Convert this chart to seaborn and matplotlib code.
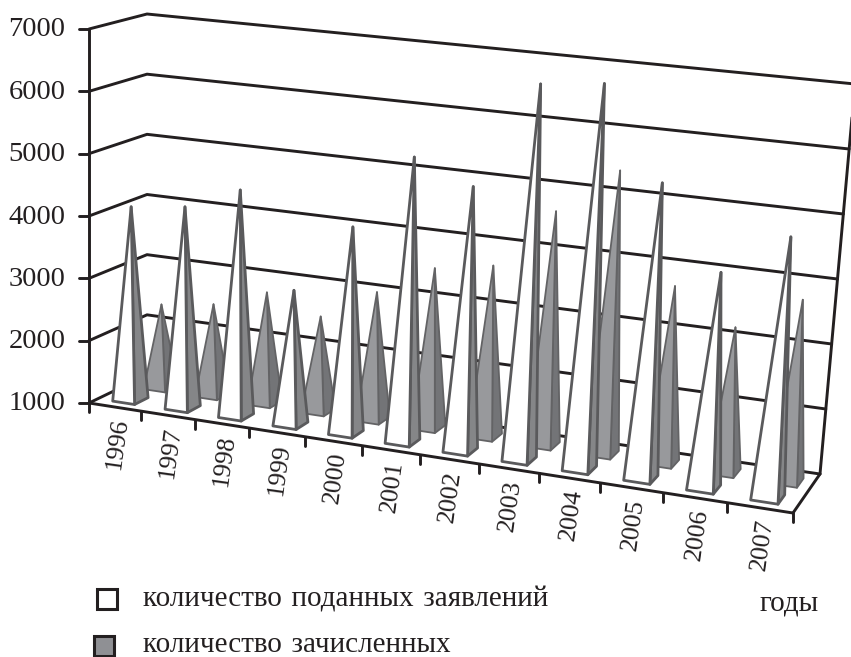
import numpy as np
import pandas as pd
import seaborn as sb
import matplotlib
matplotlib.use("Agg")
import matplotlib.pyplot as plt

years = ["1996", "1997", "1998", "1999", "2000", "2001", "2002", "2003", "2004", "2005", "2006", "2007"]
applied = [4110, 4220, 4600, 3120, 4240, 5450, 5100, 6800, 6910, 5500, 4260, 4920]
enrolled = [2360, 2480, 2790, 2520, 3030, 3530, 3690, 4660, 5410, 3730, 3220, 3770]
value_ticks = [1000, 2000, 3000, 4000, 5000, 6000, 7000]

# box corners in pixels: (u, depth, value)
FRONT_BOTTOM = np.array([[89, 403], [793, 513]], dtype=float)
BACK_BOTTOM = np.array([[147, 375], [820, 474]], dtype=float)
FRONT_TOP = np.array([[89, 29], [831, 109]], dtype=float)
BACK_TOP = np.array([[147, 14], [855, 84]], dtype=float)


def project(u, depth, value):
    t = u / (u + 1.13 * (1 - u))
    f = (value - 1000) / 6000
    bottom_f = FRONT_BOTTOM[0] + (FRONT_BOTTOM[1] - FRONT_BOTTOM[0]) * t
    bottom_b = BACK_BOTTOM[0] + (BACK_BOTTOM[1] - BACK_BOTTOM[0]) * t
    top_f = FRONT_TOP[0] + (FRONT_TOP[1] - FRONT_TOP[0]) * t
    top_b = BACK_TOP[0] + (BACK_TOP[1] - BACK_TOP[0]) * t
    bottom = bottom_f + (bottom_b - bottom_f) * depth
    top = top_f + (top_b - top_f) * depth
    return bottom + (top - bottom) * f


def pyramid(ax, i, value, center, d0, d1, width, front, side, edge, lw):
    n = len(years)
    u0 = (i + center - width / 2) / n
    u1 = (i + center + width / 2) / n
    fl = project(u0, d0, 1000)
    fr = project(u1, d0, 1000)
    br = project(u1, d1, 1000)
    apex = project((i + center) / n, (d0 + d1) / 2, value)
    ax.fill([fr[0], br[0], apex[0]], [fr[1], br[1], apex[1]], facecolor=side, edgecolor=edge,
            linewidth=lw, joinstyle="round", zorder=3 + i * 0.01)
    ax.fill([fl[0], fr[0], apex[0]], [fl[1], fr[1], apex[1]], facecolor=front, edgecolor=edge,
            linewidth=lw, joinstyle="round", zorder=3 + i * 0.01)


sb.set_theme(style="white")
plt.rcParams["font.family"] = ["Liberation Serif", "DejaVu Serif"]
ink = "#231f20"

fig = plt.figure(figsize=(8.51, 6.57), dpi=100)
ax = fig.add_axes([0, 0, 1, 1])
ax.set_xlim(0, 851)
ax.set_ylim(657, 0)
ax.axis("off")

# wall lines and box edges
rows = []
for v in value_ticks:
    for seg, (u, d) in enumerate([(0, 0), (0, 1), (1, 1)]):
        x, y = project(u, d, v)
        rows.append({"x": x, "y": y, "line": f"grid{v}", "n": seg})
extra = {
    "axis": [(0, 0, 1000), (0, 0, 7000)],
    "right": [(1, 1, 1000), (1, 1, 7000)],
    "front": [(0, 0, 1000), (1, 0, 1000)],
    "side": [(1, 0, 1000), (1, 1, 1000)],
}
for name, pts in extra.items():
    for seg, p in enumerate(pts):
        x, y = project(*p)
        rows.append({"x": x, "y": y, "line": name, "n": seg})
lines = pd.DataFrame(rows)
sb.lineplot(data=lines, x="x", y="y", units="line", estimator=None, sort=False, color=ink,
            linewidth=2.1, legend=False, ax=ax, zorder=2)

for i, v in enumerate(enrolled):
    pyramid(ax, i, v, 0.6, 0.6, 0.84, 0.42, "#98999c", "#737477", "#636365", 1.3)
for i, v in enumerate(applied):
    pyramid(ax, i, v, 0.5, 0.15, 0.39, 0.42, "white", "#858688", "#5a5a5c", 2)

# ticks
for v in value_ticks:
    x, y = project(0, 0, v)
    ax.plot([x - 10, x], [y, y], color=ink, lw=2.1, zorder=2)
    ax.text(x - 52, y + 1, str(v), ha="center", va="center", fontsize=20.5, color=ink)
for i in range(len(years) + 1):
    x, y = project(i / len(years), 0, 1000)
    ax.plot([x, x], [y, y + 9], color=ink, lw=2.1, zorder=2)
for i, label in enumerate(years):
    x, y = project((i + 0.5) / len(years), 0, 1000)
    ax.text(x + 2, y + 37, label, rotation=82, ha="center", va="center", fontsize=18.5, color=ink)

# legend
ax.plot([107], [599], marker="s", ms=14.5, mfc="white", mec=ink, mew=2.2, ls="none", clip_on=False)
ax.plot([104], [646], marker="s", ms=14.5, mfc="#8f9094", mec=ink, mew=2.2, ls="none", clip_on=False)
ax.text(143, 600, "количество\u200a поданных\u200a заявлений", ha="left", va="center", fontsize=21, color=ink)
ax.text(143, 645, "количество\u200a зачисленных", ha="left", va="center", fontsize=21, color=ink)
ax.text(760, 603, "годы", ha="left", va="center", fontsize=21, color=ink)

fig.savefig("out.png", dpi=100)
